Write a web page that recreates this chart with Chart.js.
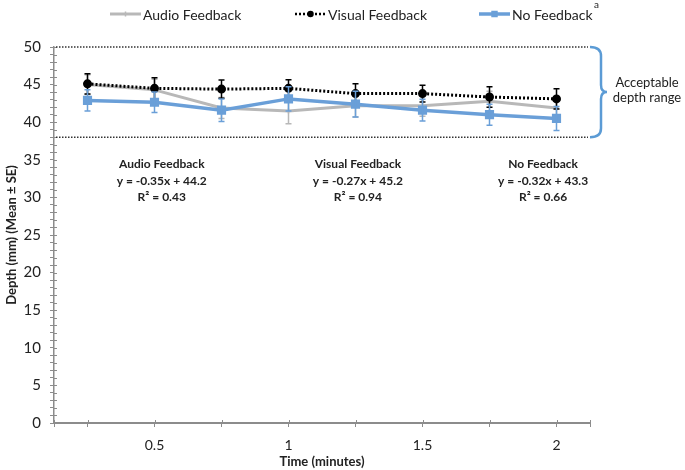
<!DOCTYPE html>
<html>
<head>
<meta charset="utf-8">
<script src="https://cdn.jsdelivr.net/npm/chart.js@4.4.1/dist/chart.umd.min.js"></script>
<style>
  html, body { margin: 0; padding: 0; background: #fff; }
  #wrap { width: 685px; height: 470px; }
</style>
</head>
<body>
<div id="wrap"><canvas id="grafico" width="685" height="470"></canvas></div>
<script>
const tiempos = [0.25, 0.5, 0.75, 1, 1.25, 1.5, 1.75, 2];
const etiquetasX = [0.5, 1, 1.5, 2];
const audioMedia = [45.0, 44.3, 41.9, 41.5, 42.2, 42.2, 42.8, 41.9];
const audioSE = [1.3, 1.4, 1.4, 1.7, 1.5, 1.4, 1.3, 1.3];
const visualMedia = [45.1, 44.5, 44.4, 44.5, 43.8, 43.8, 43.35, 43.1];
const visualSE = [1.35, 1.4, 1.2, 1.15, 1.3, 1.1, 1.35, 1.35];
const sinMedia = [42.9, 42.65, 41.6, 43.1, 42.4, 41.6, 41.0, 40.5];
const sinSE = [1.4, 1.35, 1.5, 1.6, 1.7, 1.45, 1.4, 1.6];
const rangoAceptable = [38, 50];
const nombresSeries = ['Audio Feedback', 'Visual Feedback', 'No Feedback'];
const ecuaciones = [
    ['Audio Feedback', 'y = -0.35x + 44.2', 'R² = 0.43'],
    ['Visual Feedback', 'y = -0.27x + 45.2', 'R² = 0.94'],
    ['No Feedback', 'y = -0.32x + 43.3', 'R² = 0.66']
];
const textoRango = ['Acceptable', 'depth range'];

const FUENTE = 'Lato, "Open Sans", sans-serif';
const GRIS = '#b8b8b8';
const AZUL = '#6a9fd8';
const EJE = '#8c8c8c';

function puntos(medias) {
    return tiempos.map((t, i) => ({ x: t, y: medias[i] }));
}

// error bars, drawn right after each dataset
const barrasError = {
    id: 'barrasError',
    afterDatasetDraw(chart, args) {
        const ds = chart.data.datasets[args.index];
        const ctx = chart.ctx;
        const ys = chart.scales.y;
        ctx.save();
        ctx.strokeStyle = ds.errorColor;
        ctx.lineWidth = 1.5;
        args.meta.data.forEach((p, i) => {
            const v = ds.data[i].y;
            const arriba = ys.getPixelForValue(v + ds.errores[i]);
            const abajo = ys.getPixelForValue(v - ds.errores[i]);
            ctx.beginPath();
            ctx.moveTo(p.x, arriba); ctx.lineTo(p.x, abajo);
            ctx.moveTo(p.x - 3, arriba); ctx.lineTo(p.x + 3, arriba);
            ctx.moveTo(p.x - 3, abajo); ctx.lineTo(p.x + 3, abajo);
            ctx.stroke();
        });
        ctx.restore();
    }
};

const extras = {
    id: 'extras',
    beforeDatasetsDraw(chart) {
        const ctx = chart.ctx;
        const area = chart.chartArea;
        const xs = chart.scales.x;
        const ys = chart.scales.y;
        ctx.save();
        // inner half of the axis ticks
        ctx.strokeStyle = EJE;
        ctx.lineWidth = 1;
        ys.ticks.forEach(t => {
            const y = Math.round(ys.getPixelForValue(t.value)) + 0.5;
            ctx.beginPath(); ctx.moveTo(area.left, y); ctx.lineTo(area.left + 3, y); ctx.stroke();
        });
        xs.ticks.forEach(t => {
            const x = Math.round(xs.getPixelForValue(t.value)) + 0.5;
            ctx.beginPath(); ctx.moveTo(x, area.bottom); ctx.lineTo(x, area.bottom - 3); ctx.stroke();
        });
        // acceptable range lines
        ctx.strokeStyle = '#333';
        ctx.lineWidth = 1.5;
        ctx.setLineDash([1.5, 1.5]);
        rangoAceptable.forEach(v => {
            const y = ys.getPixelForValue(v);
            ctx.beginPath(); ctx.moveTo(area.left + 2, y); ctx.lineTo(area.right - 2, y); ctx.stroke();
        });
        ctx.restore();
    },
    afterDraw(chart) {
        const ctx = chart.ctx;
        const area = chart.chartArea;
        const xs = chart.scales.x;
        const ys = chart.scales.y;
        ctx.save();

        // brace for the acceptable range
        const yTop = ys.getPixelForValue(rangoAceptable[1]);
        const yBot = ys.getPixelForValue(rangoAceptable[0]);
        const yMid = (yTop + yBot) / 2;
        const x0 = area.right, x1 = area.right + 11, x2 = area.right + 17;
        ctx.strokeStyle = '#5b9bd5';
        ctx.lineWidth = 2.5;
        ctx.beginPath();
        ctx.moveTo(x0, yTop);
        ctx.quadraticCurveTo(x1, yTop, x1, yTop + 9);
        ctx.lineTo(x1, yMid - 7);
        ctx.quadraticCurveTo(x1, yMid, x2, yMid);
        ctx.quadraticCurveTo(x1, yMid, x1, yMid + 7);
        ctx.lineTo(x1, yBot - 9);
        ctx.quadraticCurveTo(x1, yBot, x0, yBot);
        ctx.stroke();

        ctx.fillStyle = '#222';
        ctx.textAlign = 'center';
        ctx.textBaseline = 'middle';
        ctx.font = '13px ' + FUENTE;
        ctx.fillText(textoRango[0], 647, yMid - 9);
        ctx.fillText(textoRango[1], 647, yMid + 6);

        // regression equations
        const centros = [0.527, 1.259, 1.95];
        const filas = [34.4, 32.15, 30.05];
        ctx.font = 'bold 12px ' + FUENTE;
        ecuaciones.forEach((lineas, i) => {
            const x = xs.getPixelForValue(centros[i]);
            lineas.forEach((txt, j) => {
                ctx.fillText(txt, x, ys.getPixelForValue(filas[j]));
            });
        });

        // legend
        const items = [
            { x: 110, color: GRIS, dash: [], ancho: 3, punto: 'cross', r: 2.5 },
            { x: 295, color: '#000', dash: [2, 2], ancho: 2.5, punto: 'circle', r: 2.5 },
            { x: 479, color: AZUL, dash: [], ancho: 3.5, punto: 'rect', r: 3.5 }
        ];
        ctx.textAlign = 'left';
        ctx.font = '14px ' + FUENTE;
        items.forEach((it, i) => {
            const y = 14;
            ctx.save();
            ctx.strokeStyle = it.color;
            ctx.lineWidth = it.ancho;
            ctx.setLineDash(it.dash);
            ctx.beginPath(); ctx.moveTo(it.x, y); ctx.lineTo(it.x + 31, y); ctx.stroke();
            ctx.restore();
            ctx.save();
            ctx.fillStyle = it.color;
            ctx.strokeStyle = it.color;
            ctx.lineWidth = 1.5;
            Chart.helpers.drawPoint(ctx, { pointStyle: it.punto, radius: it.r, borderWidth: 1.5 }, it.x + 15.5, y);
            ctx.restore();
            ctx.fillStyle = '#222';
            ctx.fillText(nombresSeries[i], it.x + 33, y + 1);
        });
        ctx.font = '10px ' + FUENTE;
        ctx.fillText('a', 594, 5);
        ctx.restore();
    }
};

window.onload = function () {
    const ctx = document.getElementById('grafico').getContext('2d');

    new Chart(ctx, {
        type: 'line',
        data: {
            datasets: [
                {
                    label: nombresSeries[2],
                    data: puntos(sinMedia),
                    errores: sinSE,
                    errorColor: AZUL,
                    borderColor: AZUL,
                    backgroundColor: AZUL,
                    borderWidth: 3.5,
                    pointStyle: 'rect',
                    pointRadius: 4,
                    order: 0
                },
                {
                    label: nombresSeries[1],
                    data: puntos(visualMedia),
                    errores: visualSE,
                    errorColor: '#000',
                    borderColor: '#000',
                    backgroundColor: '#000',
                    borderWidth: 3,
                    borderDash: [2, 2],
                    pointStyle: 'circle',
                    pointRadius: 3,
                    order: 1
                },
                {
                    label: nombresSeries[0],
                    data: puntos(audioMedia),
                    errores: audioSE,
                    errorColor: GRIS,
                    borderColor: GRIS,
                    backgroundColor: GRIS,
                    borderWidth: 3,
                    pointStyle: 'cross',
                    pointRadius: 2.5,
                    pointBorderWidth: 1.5,
                    order: 2
                }
            ]
        },
        options: {
            responsive: false,
            animation: false,
            layout: { padding: { top: 47, right: 95, left: 0, bottom: 0 } },
            plugins: {
                legend: { display: false },
                tooltip: { enabled: false }
            },
            scales: {
                x: {
                    type: 'linear',
                    min: 0.125,
                    max: 2.125,
                    afterBuildTicks(scale) {
                        scale.ticks = [0.125, ...tiempos, 2.125].map(v => ({ value: v }));
                    },
                    afterFit(scale) { scale.height = 47; },
                    grid: { drawOnChartArea: false, color: EJE, tickLength: 4 },
                    border: { color: EJE, width: 2 },
                    ticks: {
                        autoSkip: false,
                        maxRotation: 0,
                        padding: 10,
                        color: '#222',
                        font: { family: FUENTE, size: 14 },
                        callback: v => etiquetasX.includes(v) ? String(v) : ''
                    },
                    title: {
                        display: true,
                        text: 'Time (minutes)',
                        color: '#222',
                        font: { family: FUENTE, size: 13, weight: 'bold' },
                        padding: { top: 0, bottom: 0 }
                    }
                },
                y: {
                    min: 0,
                    max: 50,
                    afterFit(scale) { scale.width = 54; },
                    grid: { drawOnChartArea: false, color: EJE, tickLength: 4 },
                    border: { color: EJE, width: 1.5 },
                    ticks: {
                        stepSize: 1,
                        autoSkip: false,
                        padding: 9,
                        color: '#222',
                        font: { family: FUENTE, size: 15 },
                        callback: v => v % 5 === 0 ? String(v) : ''
                    },
                    title: {
                        display: true,
                        text: 'Depth (mm) (Mean ± SE)',
                        color: '#222',
                        font: { family: FUENTE, size: 13, weight: 'bold' },
                        padding: { top: 4, bottom: 0 }
                    }
                }
            }
        },
        plugins: [barrasError, extras]
    });
};
</script>
</body>
</html>
